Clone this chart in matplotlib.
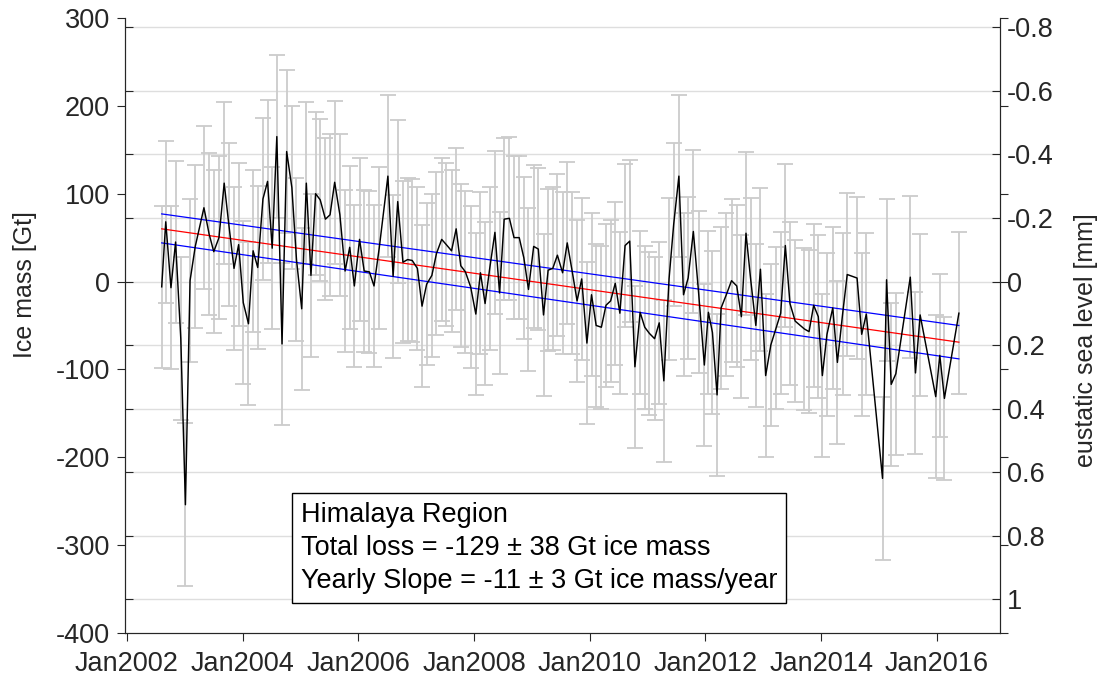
import matplotlib
matplotlib.use('Agg')
import matplotlib.pyplot as plt

plt.rcParams['font.family'] = ['Liberation Sans', 'DejaVu Sans']

# monthly solutions, decimal year and ice mass anomaly [Gt]
dates = [2002.60, 2002.67, 2002.76, 2002.84, 2002.93, 2003.01, 2003.09, 2003.18,
         2003.33, 2003.42, 2003.50, 2003.59, 2003.68, 2003.76, 2003.85, 2003.93,
         2004.01, 2004.10, 2004.18, 2004.26, 2004.35, 2004.43, 2004.51, 2004.59,
         2004.68, 2004.76, 2004.85, 2004.93, 2005.02, 2005.10, 2005.18, 2005.26,
         2005.34, 2005.43, 2005.51, 2005.59, 2005.68, 2005.77, 2005.85, 2005.93,
         2006.02, 2006.10, 2006.19, 2006.27, 2006.36, 2006.51, 2006.60, 2006.68,
         2006.77, 2006.85, 2006.93, 2007.02, 2007.10, 2007.18, 2007.27, 2007.35,
         2007.44, 2007.52, 2007.61, 2007.69, 2007.77, 2007.85, 2007.94, 2008.03,
         2008.11, 2008.19, 2008.27, 2008.36, 2008.44, 2008.52, 2008.61, 2008.69,
         2008.78, 2008.86, 2008.94, 2009.03, 2009.11, 2009.20, 2009.28, 2009.36,
         2009.44, 2009.53, 2009.61, 2009.70, 2009.78, 2009.86, 2009.95, 2010.03,
         2010.11, 2010.20, 2010.28, 2010.36, 2010.44, 2010.52, 2010.61, 2010.69,
         2010.78, 2010.87, 2010.95, 2011.03, 2011.12, 2011.20, 2011.28, 2011.37,
         2011.45, 2011.54, 2011.62, 2011.70, 2011.79, 2011.88, 2011.98, 2012.05,
         2012.12, 2012.20, 2012.27, 2012.36, 2012.45, 2012.54, 2012.62, 2012.70,
         2012.78, 2012.87, 2012.95, 2013.04, 2013.13, 2013.22, 2013.30, 2013.38,
         2013.46, 2013.55, 2013.71, 2013.79, 2013.87, 2013.95, 2014.02, 2014.10,
         2014.20, 2014.28, 2014.37, 2014.45, 2014.62, 2014.70, 2014.78, 2015.06,
         2015.13, 2015.21, 2015.29, 2015.54, 2015.63, 2015.71, 2015.98, 2016.05,
         2016.13, 2016.38]
mass = [-6, 68, -7, 45, -65, -254, 1, 40,
        84, 54, 34, 50, 112, 65, 15, 42,
        -24, -48, 35, 16, 94, 114, 38, 165,
        -71, 148, 107, 25, -31, 112, 7, 100,
        93, 71, 76, 113, 76, 12, 39, -5,
        48, 12, 11, -5, 38, 120, 6, 91,
        22, 25, 24, 15, -28, -3, 7, 32,
        48, 42, 35, 60, 18, 11, -6, -37,
        10, -25, 15, 56, -13, 71, 72, 50,
        50, 27, -9, 40, 37, -38, 13, 15,
        30, 10, 44, 10, -22, 3, -70, -15,
        -50, -52, -27, -22, -2, -36, 41, 46,
        -97, -35, -52, -59, -65, -47, -113, 3,
        65, 120, -15, 4, 57, -12, -95, -35,
        -58, -129, -30, -15, 1, -5, -40, 55,
        3, -50, 14, -107, -72, -53, -36, 41,
        -25, -45, -54, -57, -27, -40, -107, -60,
        -30, -92, -37, 8, 4, -60, -37, -224,
        2, -117, -105, 5, -104, -38, -131, -84,
        -133, -36]
mass_err = 92.5  # error bar half length [Gt], about the same for every month

# linear fit and its uncertainty band, at first and last month
trend_dates = [2002.60, 2016.38]
trend_fit = [60, -69]
trend_upper = [77, -50]
trend_lower = [44, -88]

xtick_years = [2002, 2004, 2006, 2008, 2010, 2012, 2014, 2016]
xtick_labels = ['Jan2002', 'Jan2004', 'Jan2006', 'Jan2008', 'Jan2010',
                'Jan2012', 'Jan2014', 'Jan2016']
mass_ticks = [-400, -300, -200, -100, 0, 100, 200, 300]
sea_ticks = [-0.8, -0.6, -0.4, -0.2, 0, 0.2, 0.4, 0.6, 0.8, 1.0]
sea_labels = ['-0.8', '-0.6', '-0.4', '-0.2', '0', '0.2', '0.4', '0.6', '0.8', '1']
GT_PER_MM = 361.8  # Gt of ice per mm of eustatic sea level

box_text = ('Himalaya Region\n'
            'Total loss = -129 \u00b1 38 Gt ice mass\n'
            'Yearly Slope = -11 \u00b1 3 Gt ice mass/year')

fig = plt.figure(figsize=(11.02, 6.89), dpi=100)
ax = fig.add_axes([0.1134, 0.0813, 0.794, 0.8926])
ax2 = ax.twinx()
# sea level axis (with the grid) goes behind the data
ax2.set_zorder(0)
ax.set_zorder(1)
ax.patch.set_visible(False)
ax2.patch.set_visible(True)
ax2.patch.set_facecolor('white')

ax.errorbar(dates, mass, yerr=mass_err, fmt='none', ecolor='#cccccc',
            elinewidth=1.3, capsize=5.6, capthick=1.3, zorder=1)
ax.plot(trend_dates, trend_upper, color='blue', lw=0.9, zorder=2)
ax.plot(trend_dates, trend_lower, color='blue', lw=0.9, zorder=2)
ax.plot(trend_dates, trend_fit, color='red', lw=0.9, zorder=2)
ax.plot(dates, mass, color='black', lw=1.05, zorder=3)

ylo, yhi = -400, 300
ax.set_ylim(ylo, yhi)
ax.set_xlim(2001.965, 2017.09)
ax.set_yticks(mass_ticks)
ax.set_yticklabels([str(t) for t in mass_ticks])
ax.set_xticks(xtick_years)
ax.set_xticklabels(xtick_labels)
ax.tick_params(axis='both', direction='out', length=6, width=0.8,
               labelsize=19.5, colors='#262626')
ax.tick_params(axis='y', right=True, labelright=False, pad=5)
ax.tick_params(axis='x', pad=7)
ax.set_ylabel('Ice mass [Gt]', fontsize=18, color='#262626')
ax.yaxis.set_label_coords(-0.101, 0.567)

ax2.set_ylim(-ylo / GT_PER_MM, -yhi / GT_PER_MM)
ax2.set_yticks(sea_ticks)
ax2.set_yticklabels(sea_labels)
ax2.tick_params(axis='y', direction='in', length=6, width=0.8, left=True,
                labelleft=False, labelsize=19.5, colors='#262626', pad=5)
ax2.set_ylabel('eustatic sea level [mm]', fontsize=18, color='#262626')
ax2.yaxis.set_label_coords(1.085, 0.476)
ax2.grid(True, axis='y', color='#dedede', lw=1.0)

for a in (ax, ax2):
    for s in a.spines.values():
        s.set_color('#262626')
        s.set_linewidth(0.8)
    a.spines['top'].set_visible(False)

fig.text(0.2731, 1 - 548 / 689, box_text, fontsize=19.5, ha='left', va='center',
         linespacing=1.36, color='black',
         bbox=dict(boxstyle='square,pad=0.33', fc='white', ec='black', lw=1.0))

fig.savefig('out.png', dpi=100, facecolor='white')
